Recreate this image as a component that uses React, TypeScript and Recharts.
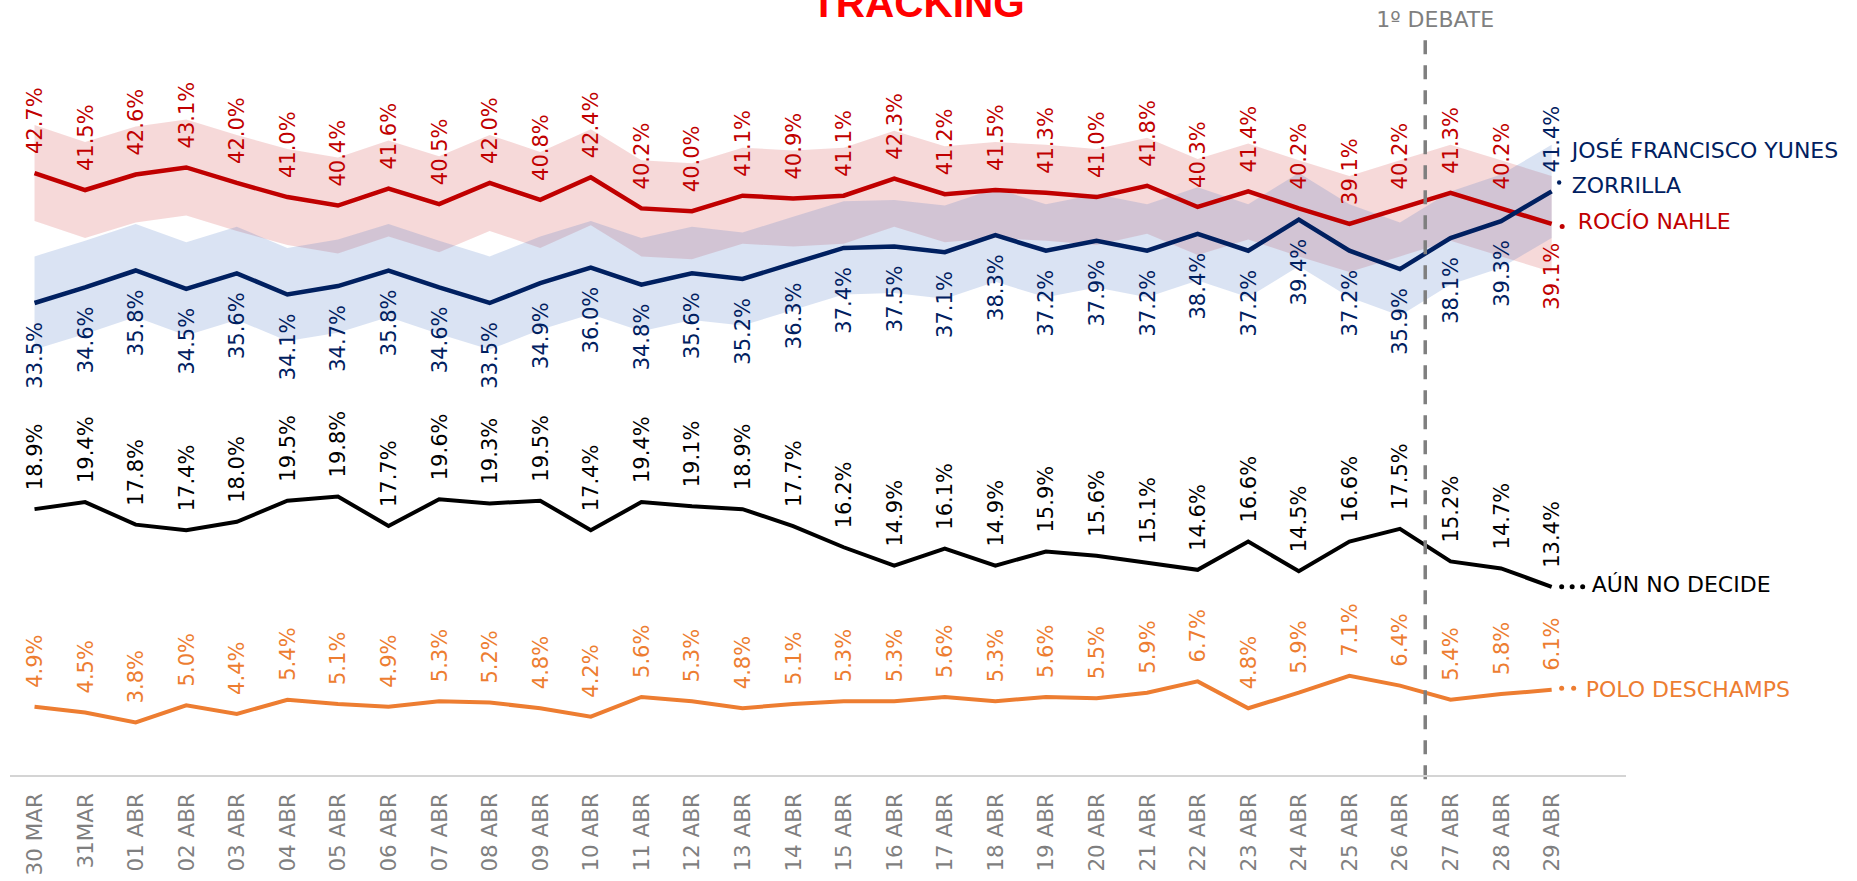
import React from 'react';
import { ComposedChart, Area, Line, XAxis, YAxis, ReferenceLine } from 'recharts';

const dates = [
  '30 MAR', '31MAR', '01 ABR', '02 ABR', '03 ABR', '04 ABR', '05 ABR', '06 ABR', '07 ABR', '08 ABR', '09 ABR',
  '10 ABR', '11 ABR', '12 ABR', '13 ABR', '14 ABR', '15 ABR', '16 ABR', '17 ABR', '18 ABR', '19 ABR',
  '20 ABR', '21 ABR', '22 ABR', '23 ABR', '24 ABR', '25 ABR', '26 ABR', '27 ABR', '28 ABR', '29 ABR',
];

const nahle = [42.7, 41.5, 42.6, 43.1, 42.0, 41.0, 40.4, 41.6, 40.5, 42.0, 40.8, 42.4, 40.2, 40.0, 41.1, 40.9, 41.1, 42.3, 41.2, 41.5, 41.3, 41.0, 41.8, 40.3, 41.4, 40.2, 39.1, 40.2, 41.3, 40.2, 39.1];
const nahleHigh = [46.1, 44.9, 46.0, 46.5, 45.4, 44.4, 43.8, 45.0, 43.9, 45.4, 44.2, 45.8, 43.6, 43.4, 44.5, 44.3, 44.5, 45.7, 44.6, 44.9, 44.7, 44.4, 45.2, 43.7, 44.8, 43.6, 42.5, 43.6, 44.7, 43.6, 42.5];
const nahleLow = [39.3, 38.1, 39.2, 39.7, 38.6, 37.6, 37.0, 38.2, 37.1, 38.6, 37.4, 39.0, 36.8, 36.6, 37.7, 37.5, 37.7, 38.9, 37.8, 38.1, 37.9, 37.6, 38.4, 36.9, 38.0, 36.8, 35.7, 36.8, 37.9, 36.8, 35.7];

const yunes = [33.5, 34.6, 35.8, 34.5, 35.6, 34.1, 34.7, 35.8, 34.6, 33.5, 34.9, 36.0, 34.8, 35.6, 35.2, 36.3, 37.4, 37.5, 37.1, 38.3, 37.2, 37.9, 37.2, 38.4, 37.2, 39.4, 37.2, 35.9, 38.1, 39.3, 41.4];
const yunesHigh = [36.8, 37.9, 39.1, 37.8, 38.9, 37.4, 38.0, 39.1, 37.9, 36.8, 38.2, 39.3, 38.1, 38.9, 38.5, 39.6, 40.7, 40.8, 40.4, 41.6, 40.5, 41.2, 40.5, 41.7, 40.5, 42.7, 40.5, 39.2, 41.4, 42.6, 44.7];
const yunesLow = [30.2, 31.3, 32.5, 31.2, 32.3, 30.8, 31.4, 32.5, 31.3, 30.2, 31.6, 32.7, 31.5, 32.3, 31.9, 33.0, 34.1, 34.2, 33.8, 35.0, 33.9, 34.6, 33.9, 35.1, 33.9, 36.1, 33.9, 32.6, 34.8, 36.0, 38.1];

const noDecide = [18.9, 19.4, 17.8, 17.4, 18.0, 19.5, 19.8, 17.7, 19.6, 19.3, 19.5, 17.4, 19.4, 19.1, 18.9, 17.7, 16.2, 14.9, 16.1, 14.9, 15.9, 15.6, 15.1, 14.6, 16.6, 14.5, 16.6, 17.5, 15.2, 14.7, 13.4];
const deschamps = [4.9, 4.5, 3.8, 5.0, 4.4, 5.4, 5.1, 4.9, 5.3, 5.2, 4.8, 4.2, 5.6, 5.3, 4.8, 5.1, 5.3, 5.3, 5.6, 5.3, 5.6, 5.5, 5.9, 6.7, 4.8, 5.9, 7.1, 6.4, 5.4, 5.8, 6.1];

const RED = '#c00000';
const NAVY = '#002060';
const ORANGE = '#ed7d31';
const GRAY = '#7f7f7f';
const FONT = '"DejaVu Sans", sans-serif';

const data = dates.map((d, i) => ({
  i,
  date: d,
  nahle: nahle[i],
  yunes: yunes[i],
  noDecide: noDecide[i],
  deschamps: deschamps[i],
  nahleBand: [nahleLow[i], nahleHigh[i]],
  yunesBand: [yunesLow[i], yunesHigh[i]],
}));

const lastIdx = dates.length - 1;

const DateTick = (props: any) => {
  const { x, y, payload } = props;
  const tx = x + 7.5;
  const ty = y + 17;
  return (
    <text x={tx} y={ty} transform={`rotate(-90, ${tx}, ${ty})`} textAnchor="end" fill={GRAY} fontSize={21.5} fontFamily={FONT}>
      {dates[payload.value]}
    </text>
  );
};

// rotated value label, above or below the point, plus the series name at the end
const makeLabel = (color: string, belowAt: (i: number) => boolean, extra?: (x: number, y: number) => React.ReactNode) =>
  (props: any) => {
    const { x, y, value, index } = props;
    const below = belowAt(index);
    const tx = x + 7.5;
    const ty = below ? y + 19 : y - 19;
    return (
      <g key={`lbl-${index}`}>
        <text
          x={tx}
          y={ty}
          transform={`rotate(-90, ${tx}, ${ty})`}
          textAnchor={below ? 'end' : 'start'}
          fill={color}
          fontSize={21}
          fontFamily={FONT}
        >
          {`${Number(value).toFixed(1)}%`}
        </text>
        {index === lastIdx && extra ? extra(x, y) : null}
      </g>
    );
  };

const nameText = (x: number, y: number, color: string, txt: string) => (
  <text x={x} y={y} fill={color} fontSize={22} fontFamily={FONT}>{txt}</text>
);

const yunesLabel = makeLabel(NAVY, (i) => i !== lastIdx, (x, y) => (
  <>
    <circle cx={x + 7.5} cy={y - 9} r={2.2} fill={NAVY} />
    {nameText(x + 20, y - 33, NAVY, 'JOSÉ FRANCISCO YUNES')}
    {nameText(x + 20, y + 2, NAVY, 'ZORRILLA')}
  </>
));

const nahleLabel = makeLabel(RED, (i) => i === lastIdx, (x, y) => (
  <>
    <circle cx={x + 10.5} cy={y + 2.5} r={2.5} fill={RED} />
    {nameText(x + 26, y + 5, RED, 'ROCÍO NAHLE')}
  </>
));

const noDecideLabel = makeLabel('#000000', () => false, (x, y) => (
  <>
    <circle cx={x + 10} cy={y} r={2.5} fill="#000" />
    <circle cx={x + 20.5} cy={y} r={2.5} fill="#000" />
    <circle cx={x + 31} cy={y} r={2.5} fill="#000" />
    {nameText(x + 40, y + 5, '#000000', 'AÚN NO DECIDE')}
  </>
));

const deschampsLabel = makeLabel(ORANGE, () => false, (x, y) => (
  <>
    <circle cx={x + 10} cy={y - 1.5} r={2.5} fill={ORANGE} />
    <circle cx={x + 22} cy={y - 1.5} r={2.5} fill={ORANGE} />
    {nameText(x + 34, y + 7, ORANGE, 'POLO DESCHAMPS')}
  </>
));

const DebateLabel = (props: any) => {
  const { viewBox } = props;
  return (
    <text x={viewBox.x + 10} y={viewBox.y - 13} textAnchor="middle" fill={GRAY} fontSize={22} fontFamily={FONT}>
      1º DEBATE
    </text>
  );
};

const App: React.FC = () => {
  return (
    <div style={{ position: 'absolute', left: 0, top: 0, width: 1857, height: 881, background: '#fff' }}>
      <svg width={1857} height={881} style={{ position: 'absolute', left: 0, top: 0 }}>
        <text x={918} y={17} textAnchor="middle" fill="#ff0000" fontSize={40.5} fontWeight="bold" fontFamily='"Liberation Sans", Arial, sans-serif'>
          TRACKING
        </text>
      </svg>
      <div style={{ position: 'absolute', left: 0, top: 0 }}>
        <ComposedChart width={1857} height={881} data={data} margin={{ top: 70, right: 231, bottom: 5, left: 10 }}>
          <XAxis
            dataKey="i"
            type="number"
            domain={[-0.485, 31.47]}
            ticks={data.map((d) => d.i)}
            interval={0}
            allowDataOverflow
            tickLine={false}
            tickSize={0}
            tickMargin={0}
            axisLine={{ stroke: '#d4d4d4', strokeWidth: 2 }}
            height={100}
            tick={<DateTick />}
          />
          <YAxis hide domain={[0, 50]} allowDataOverflow />
          <Area type="linear" dataKey="nahleBand" stroke="none" fill={RED} fillOpacity={0.15} isAnimationActive={false} />
          <Area type="linear" dataKey="yunesBand" stroke="none" fill="#4472c4" fillOpacity={0.2} isAnimationActive={false} />
          <Line type="linear" dataKey="deschamps" stroke={ORANGE} strokeWidth={4} dot={false} label={deschampsLabel} isAnimationActive={false} />
          <Line type="linear" dataKey="noDecide" stroke="#000000" strokeWidth={4} dot={false} label={noDecideLabel} isAnimationActive={false} />
          <Line type="linear" dataKey="nahle" stroke={RED} strokeWidth={4.5} dot={false} label={nahleLabel} isAnimationActive={false} />
          <Line type="linear" dataKey="yunes" stroke={NAVY} strokeWidth={4.5} dot={false} label={yunesLabel} isAnimationActive={false} />
          <ReferenceLine
            segment={[{ x: 27.5, y: 52.1 }, { x: 27.5, y: -0.3 }]}
            ifOverflow="visible"
            stroke={GRAY}
            strokeWidth={3.5}
            strokeDasharray="14 11"
            label={<DebateLabel />}
          />
        </ComposedChart>
      </div>
    </div>
  );
};

export default App;
